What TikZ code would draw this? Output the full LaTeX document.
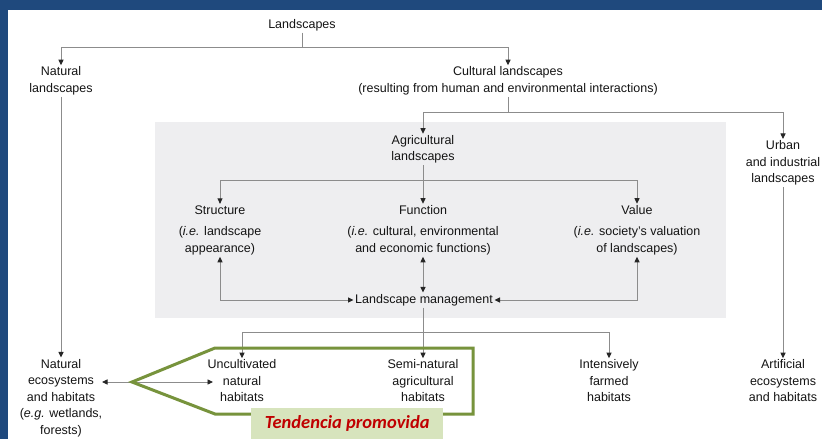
\documentclass[tikz,border=0pt]{standalone}
\usepackage{fontspec}
\setmainfont{Liberation Sans}
\newfontfamily\labelfont{Carlito}
\usetikzlibrary{arrows.meta,calc}
\definecolor{frameblue}{HTML}{1F497D}
\definecolor{boxgray}{HTML}{EEEEF0}
\definecolor{linegray}{HTML}{8C8C8C}
\definecolor{txt}{HTML}{141414}
\definecolor{olive}{HTML}{77933C}
\definecolor{lblfill}{HTML}{D7E4BD}
\definecolor{lblred}{HTML}{C00000}
\begin{document}
\begin{tikzpicture}[x=1pt,y=-1pt,
  lbl/.style={align=center,inner sep=1.5pt,text=txt,font=\fontsize{12.5}{16.5}\selectfont},
  conn/.style={draw=linegray,line width=0.9pt},
  tip/.style={},
  arr/.style={conn,-{Triangle[length=5.5pt,width=5pt,fill=black!85,color=black!85]}},
  arrb/.style={conn,{Triangle[length=5.5pt,width=5pt,fill=black!85,color=black!85]}-{Triangle[length=5.5pt,width=5pt,fill=black!85,color=black!85]}}]
\useasboundingbox (0,0) rectangle (822,439);
\fill[white] (0,0) rectangle (822,439);
\fill[frameblue] (0,0) rectangle (822,10);
\fill[frameblue] (0,0) rectangle (8,439);
\fill[boxgray] (155,122) rectangle (726,318);

\node[lbl] (landscapes) at (302,25) {Landscapes};
\node[lbl] (natural) at (61,81) {Natural\\landscapes};
\node[lbl] (cultural) at (508,81) {Cultural landscapes\\(resulting from human and environmental interactions)};
\node[lbl] (agri) at (423,149.5) {Agricultural\\landscapes};
\node[lbl] (urban) at (783,163) {Urban\\and industrial\\landscapes};
\node[lbl] (structure) at (220,210) {Structure};
\node[lbl] (structdesc) at (220,241) {(\textit{i.e.} landscape\\appearance)};
\node[lbl] (function) at (423,210) {Function};
\node[lbl] (funcdesc) at (423,241) {(\textit{i.e.} cultural, environmental\\and economic functions)};
\node[lbl] (value) at (637,210) {Value};
\node[lbl] (valuedesc) at (637,241) {(\textit{i.e.} society's valuation\\of landscapes)};
\node[lbl] (mgmt) at (424,300) {Landscape management};
\node[lbl] (natEco) at (61,398) {Natural\\ecosystems\\and habitats\\(\textit{e.g.} wetlands,\\forests)};
\node[lbl] (uncult) at (242,381) {Uncultivated\\natural\\habitats};
\node[lbl] (semi) at (423,381) {Semi-natural\\agricultural\\habitats};
\node[lbl] (intens) at (609,381) {Intensively\\farmed\\habitats};
\node[lbl] (artif) at (783,381) {Artificial\\ecosystems\\and habitats};

\coordinate (b1) at (302,47);
\coordinate (b2) at (508,112);
\coordinate (b3) at (423,180);
\coordinate (b4) at (423,332);
\coordinate (neL) at (102,382);
\coordinate (neR) at (213,382);

\draw[conn] (landscapes) -- (b1);
\draw[arr] (b1) -| (natural);
\draw[arr] (b1) -| (cultural);
\draw[conn] (cultural) -- (b2);
\draw[arr] (b2) -| (agri);
\draw[arr] (b2) -| (urban);
\draw[conn] (agri) -- (b3);
\draw[arr] (b3) -| (structure);
\draw[arr] (b3) -- (function);
\draw[arr] (b3) -| (value);
\draw[arrb] (structdesc) |- (mgmt);
\draw[arrb] (valuedesc) |- (mgmt);
\draw[arrb] (funcdesc.south) -- (funcdesc.south |- mgmt.north);
\draw[arr] (mgmt.south -| b4) -- (semi);
\draw[arr] (b4) -| (uncult);
\draw[arr] (b4) -| (intens);
\draw[arr] (natural) -- (natEco);
\draw[arr] (urban) -- (artif);
\draw[arrb] (neL) -- (neR);

\draw[olive,line width=3pt,line join=miter] (132,382) -- (215,348) -- (473,348) -- (473,414) -- (215,414) -- cycle;
\node[fill=lblfill,minimum width=192pt,minimum height=31pt,inner sep=0pt,anchor=north west,
  font=\labelfont\bfseries\itshape\fontsize{18.5}{20}\selectfont,text=lblred] (tend) at (251,408) {Tendencia promovida};
\end{tikzpicture}
\end{document}
